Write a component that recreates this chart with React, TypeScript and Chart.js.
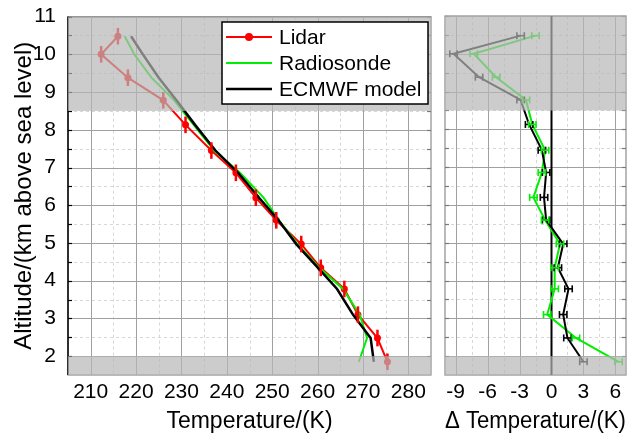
import React, { useEffect, useRef } from "react";
import { Chart, registerables } from "chart.js";
Chart.register(...registerables);

// ---------- data ----------
const altitudes = [10.48, 10.0, 9.38, 8.78, 8.13, 7.45, 6.86, 6.2, 5.6, 4.97, 4.34, 3.78, 3.1, 2.48, 1.85];
const lidarTemp = [216.0, 212.3, 218.2, 226.0, 230.9, 236.6, 242.0, 246.4, 250.9, 256.4, 260.7, 265.9, 268.9, 273.2, 275.4];
const lidarAltErr = [0.22, 0.22, 0.22, 0.22, 0.22, 0.22, 0.22, 0.22, 0.22, 0.22, 0.22, 0.22, 0.22, 0.22, 0.22];
const radiosondeTemp = [217.5, 219.6, 223.4, 228.4, 232.7, 237.2, 242.9, 248.1, 251.5, 255.6, 260.4, 265.6, 269.3, 270.9, 269.1];
const ecmwfTemp = [218.9, 221.5, 225.0, 228.9, 233.0, 237.5, 242.5, 247.1, 251.4, 255.3, 260.1, 264.3, 267.8, 271.7, 272.4];
const deltaRadiosonde = [-1.5, -7.3, -5.2, -2.4, -1.8, -0.6, -0.9, -1.7, -0.6, 0.8, 0.3, 0.3, -0.4, 2.3, 6.3];
const deltaEcmwf = [-2.9, -9.2, -6.8, -2.9, -2.1, -0.9, -0.5, -0.7, -0.5, 1.1, 0.6, 1.6, 1.1, 1.5, 3.0];
const deltaErr = [0.35, 0.35, 0.35, 0.35, 0.35, 0.35, 0.35, 0.35, 0.35, 0.35, 0.35, 0.35, 0.35, 0.35, 0.35];

const tempTicks = [210, 220, 230, 240, 250, 260, 270, 280];
const tempMinor = [215, 225, 235, 245, 255, 265, 275];
const altTicks = [2, 3, 4, 5, 6, 7, 8, 9, 10, 11];
const altMinor = [2.5, 3.5, 4.5, 5.5, 6.5, 7.5, 8.5, 9.5, 10.5];
const deltaTicks = [-9, -6, -3, 0, 3, 6];
const deltaMinor = [-7.5, -4.5, -1.5, 1.5, 4.5];
const shadedBands: [number, number][] = [[8.5, 11], [1.5, 2]];
const legendLabels = ["Lidar", "Radiosonde", "ECMWF model"];

const FONT = '"Liberation Sans", Arial, Helvetica, sans-serif';
const RED = "#ff0000";
const GREEN = "#00ee00";
const BLACK = "#000000";

function pts(xs: number[], ys: number[]) {
  return xs.map((x, i) => ({ x, y: ys[i] }));
}

function gridPlugin(xMajor: number[], xMinor: number[], yMajor: number[], yMinor: number[], leftBlack: boolean, zeroLine: boolean) {
  return {
    id: "customGrid",
    beforeDatasetsDraw(chart: any) {
      const { ctx, chartArea: a, scales } = chart;
      const xs = scales.x, ys = scales.y;
      ctx.save();
      ctx.lineWidth = 1;
      ctx.strokeStyle = "rgb(215,215,215)";
      ctx.setLineDash([3, 3]);
      for (const v of xMinor) {
        const p = Math.round(xs.getPixelForValue(v)) + 0.5;
        ctx.beginPath(); ctx.moveTo(p, a.top); ctx.lineTo(p, a.bottom); ctx.stroke();
      }
      for (const v of yMinor) {
        const p = Math.round(ys.getPixelForValue(v)) + 0.5;
        ctx.beginPath(); ctx.moveTo(a.left, p); ctx.lineTo(a.right, p); ctx.stroke();
      }
      ctx.setLineDash([]);
      ctx.strokeStyle = "rgb(160,160,160)";
      for (const v of xMajor) {
        const p = Math.round(xs.getPixelForValue(v)) + 0.5;
        ctx.beginPath(); ctx.moveTo(p, a.top); ctx.lineTo(p, a.bottom); ctx.stroke();
      }
      for (const v of yMajor) {
        const p = Math.round(ys.getPixelForValue(v)) + 0.5;
        ctx.beginPath(); ctx.moveTo(a.left, p); ctx.lineTo(a.right, p); ctx.stroke();
      }
      // frame
      ctx.strokeStyle = "rgb(140,140,140)";
      ctx.lineWidth = 1.2;
      ctx.strokeRect(a.left, a.top, a.right - a.left, a.bottom - a.top);
      // inward ticks
      const all = [...yMajor, ...yMinor];
      for (const v of all) {
        const p = Math.round(ys.getPixelForValue(v)) + 0.5;
        ctx.strokeStyle = leftBlack ? BLACK : "rgb(120,120,120)";
        ctx.beginPath(); ctx.moveTo(a.left, p); ctx.lineTo(a.left + 4, p); ctx.stroke();
        ctx.strokeStyle = "rgb(120,120,120)";
        ctx.beginPath(); ctx.moveTo(a.right, p); ctx.lineTo(a.right - 4, p); ctx.stroke();
      }
      if (leftBlack) {
        ctx.strokeStyle = BLACK;
        ctx.lineWidth = 1.5;
        ctx.beginPath(); ctx.moveTo(a.left, a.top); ctx.lineTo(a.left, a.bottom); ctx.stroke();
      }
      if (zeroLine) {
        const p = Math.round(xs.getPixelForValue(0)) + 0.5;
        ctx.strokeStyle = BLACK;
        ctx.lineWidth = 2;
        ctx.beginPath(); ctx.moveTo(p, a.top); ctx.lineTo(p, a.bottom); ctx.stroke();
      }
      ctx.restore();
    },
  };
}

function overlayPlugin(withLegend: boolean) {
  return {
    id: "overlay",
    afterDatasetsDraw(chart: any) {
      const { ctx, chartArea: a, scales } = chart;
      const xs = scales.x, ys = scales.y;
      ctx.save();
      // error bars
      chart.data.datasets.forEach((ds: any) => {
        if (!ds.err) return;
        ctx.strokeStyle = ds.borderColor;
        ctx.setLineDash([]);
        ds.data.forEach((pt: any, i: number) => {
          const e = ds.err[i];
          const px = xs.getPixelForValue(pt.x);
          const py = ys.getPixelForValue(pt.y);
          if (ds.errAxis === "y") {
            ctx.lineWidth = 2.5;
            const y1 = ys.getPixelForValue(pt.y - e), y2 = ys.getPixelForValue(pt.y + e);
            ctx.beginPath(); ctx.moveTo(px, y1); ctx.lineTo(px, y2); ctx.stroke();
          } else {
            ctx.lineWidth = 1.6;
            const x1 = xs.getPixelForValue(pt.x - e), x2 = xs.getPixelForValue(pt.x + e);
            ctx.beginPath(); ctx.moveTo(x1, py); ctx.lineTo(x2, py); ctx.stroke();
            ctx.beginPath(); ctx.moveTo(x1, py - 3.5); ctx.lineTo(x1, py + 3.5); ctx.stroke();
            ctx.beginPath(); ctx.moveTo(x2, py - 3.5); ctx.lineTo(x2, py + 3.5); ctx.stroke();
          }
        });
      });
      // shaded bands
      ctx.fillStyle = "rgba(183,183,183,0.7)";
      for (const [lo, hi] of shadedBands) {
        const yTop = ys.getPixelForValue(hi), yBot = ys.getPixelForValue(lo);
        ctx.fillRect(a.left, yTop, a.right - a.left, yBot - yTop);
      }
      if (withLegend) {
        const bx = 222, by = 22, bw = 206, bh = 82;
        ctx.fillStyle = "#ffffff";
        ctx.fillRect(bx, by, bw, bh);
        ctx.strokeStyle = BLACK;
        ctx.lineWidth = 1.5;
        ctx.strokeRect(bx, by, bw, bh);
        const colors = [RED, GREEN, BLACK];
        const rowsY = [37, 63, 89];
        ctx.font = `21px ${FONT}`;
        ctx.textBaseline = "middle";
        ctx.textAlign = "left";
        legendLabels.forEach((lab, i) => {
          const y = rowsY[i];
          ctx.strokeStyle = colors[i];
          ctx.lineWidth = i === 2 ? 2.5 : 2;
          ctx.beginPath(); ctx.moveTo(226, y); ctx.lineTo(272, y); ctx.stroke();
          if (i === 0) {
            ctx.fillStyle = RED;
            ctx.beginPath(); ctx.arc(249, y, 4, 0, Math.PI * 2); ctx.fill();
          }
          ctx.fillStyle = BLACK;
          ctx.fillText(lab, 279, y + 1);
        });
      }
      ctx.restore();
    },
  };
}

function setTicks(values: number[]) {
  return (scale: any) => {
    scale.ticks = values.map((v) => ({ value: v }));
  };
}

export default function App() {
  const leftRef = useRef<HTMLCanvasElement>(null);
  const rightRef = useRef<HTMLCanvasElement>(null);

  useEffect(() => {
    const tickFont = { family: FONT, size: 21 };
    const titleFont = { family: FONT, size: 23 };
    const yTitleFont = { family: FONT, size: 24 };
    const left = new Chart(leftRef.current!, {
      type: "scatter",
      data: {
        datasets: [
          {
            label: legendLabels[2], data: pts(ecmwfTemp, altitudes), showLine: true,
            borderColor: BLACK, borderWidth: 2.5, pointRadius: 0, order: 1,
          } as any,
          {
            label: legendLabels[1], data: pts(radiosondeTemp, altitudes), showLine: true,
            borderColor: GREEN, borderWidth: 2, pointRadius: 0, order: 2,
          },
          {
            label: legendLabels[0], data: pts(lidarTemp, altitudes), showLine: true,
            borderColor: RED, backgroundColor: RED, pointBackgroundColor: RED, borderWidth: 2,
            pointRadius: 3.5, pointBorderWidth: 0, order: 3, err: lidarAltErr, errAxis: "y",
          },
        ],
      },
      options: {
        animation: false,
        responsive: false,
        layout: { padding: { top: 16, right: 9, left: 0, bottom: 0 } },
        plugins: { legend: { display: false }, tooltip: { enabled: false } },
        scales: {
          x: {
            type: "linear", min: 205, max: 285,
            grid: { display: false }, border: { display: false },
            afterBuildTicks: setTicks(tempTicks),
            afterFit: (s: any) => { s.height = 60; },
            ticks: { font: tickFont, color: BLACK, padding: -3, maxRotation: 0, autoSkip: false },
            title: { display: true, text: "Temperature/(K)", font: titleFont, color: BLACK, padding: { top: 0, bottom: 0 } },
          },
          y: {
            type: "linear", min: 1.5, max: 11,
            grid: { display: false }, border: { display: false },
            afterBuildTicks: setTicks(altTicks),
            afterFit: (s: any) => { s.width = 68; },
            ticks: { font: tickFont, color: BLACK, padding: 4, autoSkip: false },
            title: { display: true, text: "Altitude/(km above sea level)", font: yTitleFont, color: BLACK, padding: { top: 10, bottom: 0 } },
          },
        },
      } as any,
      plugins: [gridPlugin(tempTicks, tempMinor, altTicks, altMinor, true, false), overlayPlugin(true)],
    });

    const right = new Chart(rightRef.current!, {
      type: "scatter",
      data: {
        datasets: [
          {
            label: legendLabels[2], data: pts(deltaEcmwf, altitudes), showLine: true,
            borderColor: BLACK, borderWidth: 2, pointRadius: 0, order: 1, err: deltaErr, errAxis: "x",
          } as any,
          {
            label: legendLabels[1], data: pts(deltaRadiosonde, altitudes), showLine: true,
            borderColor: GREEN, borderWidth: 2, pointRadius: 0, order: 2, err: deltaErr, errAxis: "x",
          },
        ],
      },
      options: {
        animation: false,
        responsive: false,
        layout: { padding: { top: 16, right: 4, left: 5, bottom: 0 } },
        plugins: { legend: { display: false }, tooltip: { enabled: false } },
        scales: {
          x: {
            type: "linear", min: -10, max: 7,
            grid: { display: false }, border: { display: false },
            afterBuildTicks: setTicks(deltaTicks),
            afterFit: (s: any) => { s.height = 60; },
            ticks: { font: tickFont, color: BLACK, padding: -3, maxRotation: 0, autoSkip: false },
            title: { display: true, text: "\u0394 Temperature/(K)", font: titleFont, color: BLACK, padding: { top: 0, bottom: 0 } },
          },
          y: { type: "linear", min: 1.5, max: 11, display: false },
        },
      } as any,
      plugins: [gridPlugin(deltaTicks, deltaMinor, altTicks, altMinor, false, true), overlayPlugin(false)],
    });

    return () => { left.destroy(); right.destroy(); };
  }, []);

  return (
    <div style={{ position: "fixed", left: 0, top: 0, width: 630, height: 435, background: "#fff" }}>
      <canvas ref={leftRef} width={440} height={435} style={{ position: "absolute", left: 0, top: 0 }} />
      <canvas ref={rightRef} width={190} height={435} style={{ position: "absolute", left: 440, top: 0 }} />
    </div>
  );
}
